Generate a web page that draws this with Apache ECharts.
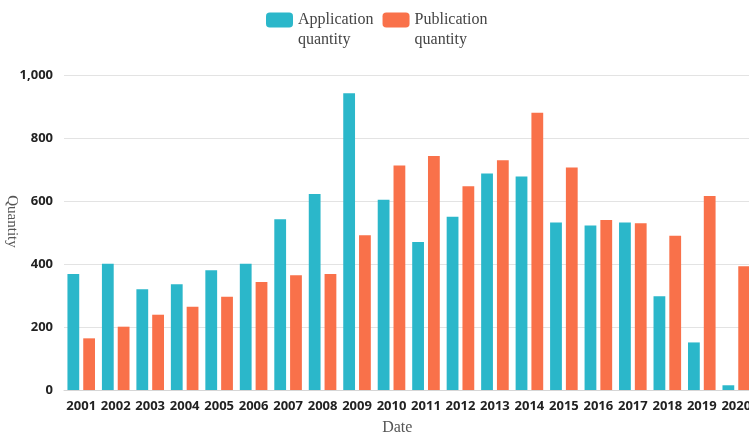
<!DOCTYPE html>
<html>
<head>
<meta charset="utf-8">
<style>
  html, body { margin: 0; padding: 0; background: #ffffff; }
  #chart { width: 749px; height: 434px; }
</style>
<script src="https://cdn.jsdelivr.net/npm/echarts@6/dist/echarts.min.js"></script>
</head>
<body>
<div id="chart"></div>
<script>
// Yearly counts of applications and publications
const years = ['2001','2002','2003','2004','2005','2006','2007','2008','2009','2010',
               '2011','2012','2013','2014','2015','2016','2017','2018','2019','2020'];
const applicationQuantity = [368, 401, 320, 336, 380, 401, 542, 622, 942, 604,
                             470, 550, 687, 678, 532, 522, 532, 298, 151, 15];
const publicationQuantity = [164, 201, 239, 264, 296, 343, 364, 368, 491, 713,
                             743, 647, 729, 880, 706, 540, 529, 490, 616, 393];
const yTicks = [0, 200, 400, 600, 800, 1000];
const seriesNames = ['Application\nquantity', 'Publication\nquantity'];

const serif = '"Liberation Serif", "Times New Roman", serif';
const sans = '"Open Sans", "Noto Sans", sans-serif';

const chart = echarts.init(document.getElementById('chart'));
chart.setOption({
  animation: false,
  color: ['#2bb7ca', '#f9714a'],
  legend: {
    left: 266,
    top: -10,
    padding: 0,
    itemWidth: 27,
    itemHeight: 15,
    itemGap: 9,
    icon: 'roundRect',
    textStyle: {
      fontFamily: serif,
      fontSize: 16,
      lineHeight: 20,
      color: '#444'
    },
    // a leading blank line keeps the swatch level with the first line of text
    formatter: function (name) { return '\n' + name; },
    data: seriesNames
  },
  grid: {
    left: 64,
    top: 75,
    width: 689.5,
    height: 315,
    containLabel: false,
    outerBoundsMode: 'none'
  },
  xAxis: {
    type: 'category',
    data: years,
    name: 'Date',
    nameLocation: 'middle',
    nameGap: 30,
    nameMoveOverlap: false,
    nameTextStyle: {
      fontFamily: serif,
      fontSize: 16,
      color: '#555',
      padding: [0, 23, 0, 0]
    },
    axisLine: { lineStyle: { color: '#d6d6d6' } },
    axisTick: { show: false },
    axisLabel: {
      interval: 0,
      margin: 10,
      fontFamily: sans,
      fontWeight: 'bold',
      fontSize: 13,
      color: '#222'
    }
  },
  yAxis: {
    type: 'value',
    min: yTicks[0],
    max: yTicks[yTicks.length - 1],
    interval: yTicks[1] - yTicks[0],
    name: 'Quantity',
    nameLocation: 'middle',
    nameGap: 45,
    nameRotate: -90,
    nameMoveOverlap: false,
    nameTextStyle: {
      fontFamily: serif,
      fontSize: 15,
      color: '#555',
      padding: [0, 22, 0, 0]
    },
    axisLine: { show: false },
    axisTick: { show: false },
    axisLabel: {
      margin: 11,
      fontFamily: sans,
      fontWeight: 'bold',
      fontSize: 13,
      color: '#222',
      formatter: function (v) { return v.toLocaleString('en-US'); }
    },
    splitLine: { lineStyle: { color: '#e3e3e3' } }
  },
  series: [
    {
      name: seriesNames[0],
      type: 'bar',
      data: applicationQuantity,
      barGap: '34%',
      barCategoryGap: '20%'
    },
    {
      name: seriesNames[1],
      type: 'bar',
      data: publicationQuantity,
      barGap: '34%',
      barCategoryGap: '20%'
    }
  ]
});
</script>
</body>
</html>
